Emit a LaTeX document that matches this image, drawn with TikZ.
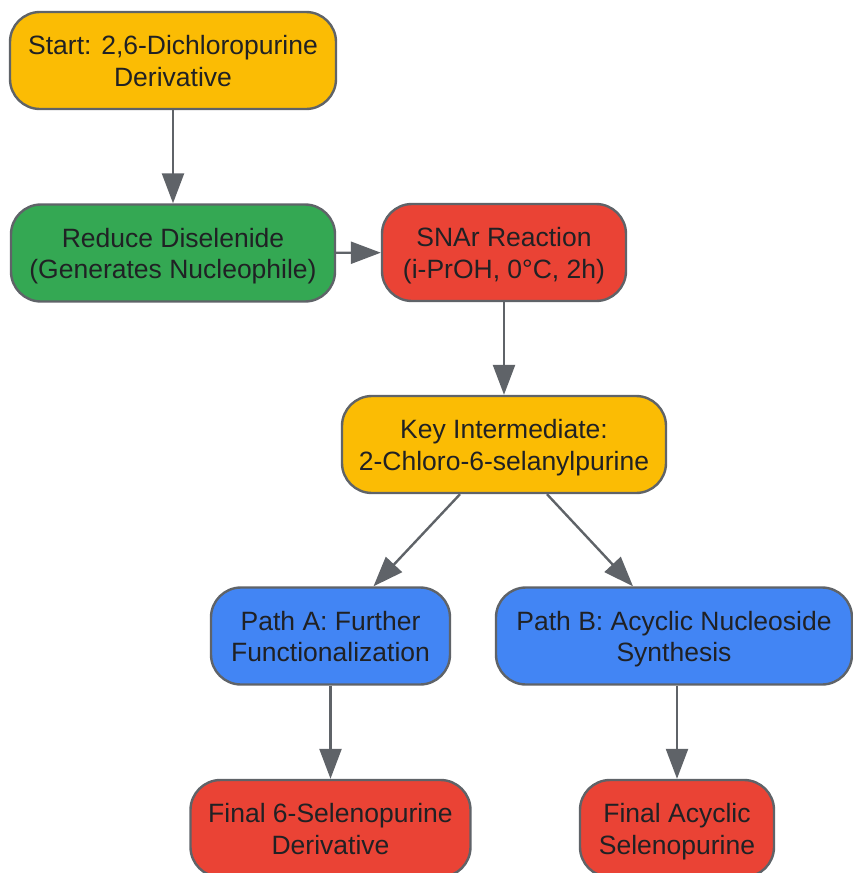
\documentclass[tikz,border=0pt]{standalone}
\usepackage{fontspec}
\setmainfont{Liberation Sans}
\usetikzlibrary{arrows.meta}
\definecolor{gyellow}{HTML}{FBBC04}
\definecolor{ggreen}{HTML}{34A853}
\definecolor{gred}{HTML}{EA4335}
\definecolor{gblue}{HTML}{4285F4}
\definecolor{edgegray}{HTML}{5F6368}
\definecolor{txt}{HTML}{202124}
\newcommand{\lnstrut}{\rule[-5.9pt]{0pt}{31.8pt}}
\tikzset{
  box/.style={draw=edgegray, line width=2.4pt, rounded corners=30pt,
    align=center, text=txt, inner sep=0pt, minimum height=97pt,
    font=\fontsize{26.5}{31.8}\selectfont},
  conn/.style={draw=edgegray, line width=2.4pt,
    -{Triangle[length=30pt,width=22pt]}}
}
\begin{document}
\begin{tikzpicture}[x=1pt,y=-1pt]
\useasboundingbox (0,0) rectangle (853,873);
\node[box, fill=gyellow, minimum width=326pt] (start) at (173,60.5) {\lnstrut Start: 2,6-Dichloropurine\\\lnstrut Derivative};
\node[box, fill=ggreen, minimum width=324pt] (reduce) at (173,253) {\lnstrut Reduce Diselenide\\\lnstrut (Generates Nucleophile)};
\node[box, fill=gred, minimum width=244pt] (snar) at (504,252.5) {\lnstrut SNAr Reaction\\\lnstrut (i-PrOH, 0°C, 2h)};
\node[box, fill=gyellow, minimum width=324pt] (key) at (504,444.5) {\lnstrut Key Intermediate:\\\lnstrut 2-Chloro-6-selanylpurine};
\node[box, fill=gblue, minimum width=239pt] (pa) at (330.5,636) {\lnstrut Path A: Further\\\lnstrut Functionalization};
\node[box, fill=gblue, minimum width=356pt] (pb) at (674,636) {\lnstrut Path B: Acyclic Nucleoside\\\lnstrut Synthesis};
\node[box, fill=gred, minimum width=280pt] (fa) at (330.5,828.5) {\lnstrut Final 6-Selenopurine\\\lnstrut Derivative};
\node[box, fill=gred, minimum width=194pt] (fb) at (677,828.5) {\lnstrut Final Acyclic\\\lnstrut Selenopurine};
\draw[conn] (start) -- (reduce);
\draw[conn] (reduce) -- (snar);
\draw[conn] (snar) -- (key);
\draw[conn] ([xshift=-44pt]key.south) -- ([xshift=43pt]pa.north);
\draw[conn] ([xshift=43pt]key.south) -- ([xshift=-41pt]pb.north);
\draw[conn] (pa.south) -- (fa.north);
\draw[conn] ([xshift=3pt]pb.south) -- (fb.north);
\end{tikzpicture}
\end{document}
